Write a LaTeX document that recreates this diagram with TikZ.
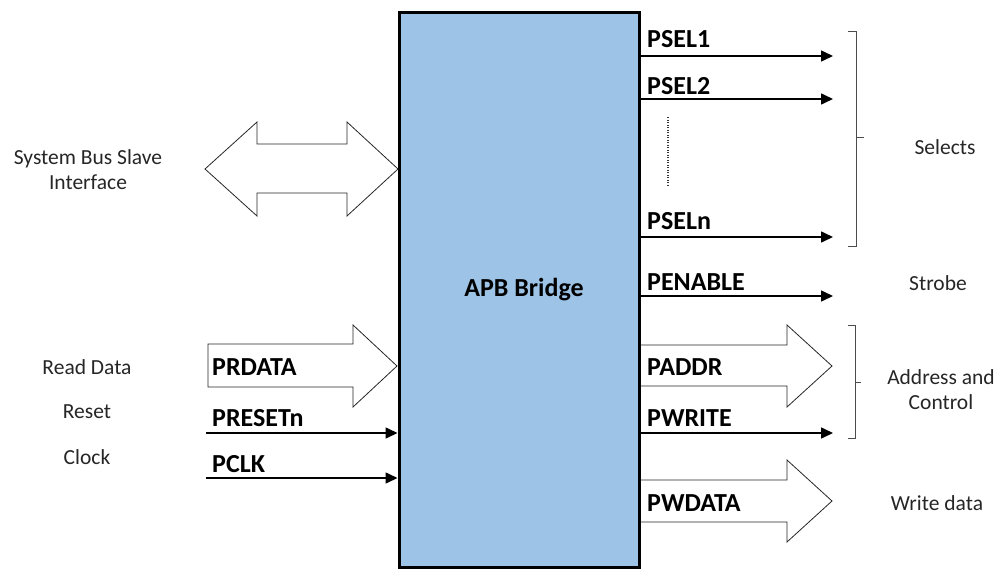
\documentclass[tikz,border=0pt]{standalone}
\usepackage{fontspec}
\setmainfont{Carlito}
\usetikzlibrary{arrows.meta}
\definecolor{bridgeblue}{RGB}{157,195,230}
\begin{document}
\begin{tikzpicture}[x=1pt,y=-1pt,
  sig/.style={line width=1.6pt,-{Triangle[length=12pt,width=11pt]}},
  bus/.style={draw=black!85,line width=0.8pt,fill=white,line join=miter},
  sigtext/.style={font=\fontsize{26}{30}\selectfont\bfseries,anchor=west,inner sep=0pt},
  desc/.style={font=\fontsize{21.5}{25}\selectfont,align=center,inner sep=0pt,text=black!85},
  bracket/.style={draw=black!70,line width=1pt}]

\useasboundingbox (0,0) rectangle (1002,570);

% the bridge block
\node[draw,line width=3pt,fill=bridgeblue,minimum width=240pt,minimum height=555pt,inner sep=0pt]
  (box) at (519,289.5) {};
\node[font=\fontsize{26}{30}\selectfont\bfseries,inner sep=0pt] (title) at (524,290) {APB Bridge};

% system bus slave interface (bidirectional bus)
\draw[bus] (205,169) -- (257,122) -- (257,144) -- (347,144) -- (347,122) -- (398,169)
  -- (347,216) -- (347,193) -- (257,193) -- (257,216) -- cycle;
\node[desc] (sysbus) at (88,170) {System Bus Slave\\Interface};

% read data bus
\draw[bus] (208,344) -- (353,344) -- (353,325) -- (397,366) -- (353,407) -- (353,387) -- (208,387) -- cycle;
\node[sigtext] (prdata) at (212,367) {PRDATA};
\node[desc] (readdata) at (87,367) {Read Data};

% reset and clock inputs
\coordinate (rstin) at (206,433);
\coordinate (clkin) at (206,478);
\draw[sig] (rstin) -- (box.west |- rstin);
\draw[sig] (clkin) -- (box.west |- clkin);
\node[sigtext] (presetn) at (212,418) {PRESETn};
\node[sigtext] (pclk) at (212,464) {PCLK};
\node[desc] (reset) at (87,412) {Reset};
\node[desc] (clock) at (87,457) {Clock};

% select outputs
\coordinate (sel1) at (833,56);
\coordinate (sel2) at (833,99);
\coordinate (seln) at (833,237);
\draw[sig] (box.east |- sel1) -- (sel1);
\draw[sig] (box.east |- sel2) -- (sel2);
\draw[sig] (box.east |- seln) -- (seln);
\node[sigtext] (psel1) at (647,39) {PSEL1};
\node[sigtext] (psel2) at (647,86) {PSEL2};
\node[sigtext] (pseln) at (647,221) {PSELn};
\coordinate (dtop) at (668,117);
\coordinate (dbot) at (668,185);
\draw[black!80,line width=1.4pt,dash pattern=on 1.2pt off 1.3pt] (dtop) -- (dbot);
\draw[bracket] (848,31) -- (856,31) -- (856,246) -- (848,246);
\draw[bracket] (856,137) -- (864,137);
\node[desc] (selects) at (945,147) {Selects};

% strobe
\coordinate (en) at (833,296);
\draw[sig] (box.east |- en) -- (en);
\node[sigtext] (penable) at (647,282) {PENABLE};
\node[desc] (strobe) at (938,283) {Strobe};

% address bus and write control
\draw[bus] (641,345) -- (787,345) -- (787,325) -- (832,366) -- (787,407) -- (787,386) -- (641,386);
\node[sigtext] (paddr) at (647,367) {PADDR};
\coordinate (wr) at (833,433);
\draw[sig] (box.east |- wr) -- (wr);
\node[sigtext] (pwrite) at (647,418) {PWRITE};
\draw[bracket] (848,325) -- (855,325) -- (855,438) -- (848,438);
\draw[bracket] (855,382) -- (861,382);
\node[desc] (addrctl) at (941,389.5) {Address and\\Control};

% write data bus
\draw[bus] (641,480) -- (787,480) -- (787,460) -- (832,501) -- (787,542) -- (787,522) -- (641,522);
\node[sigtext] (pwdata) at (647,503) {PWDATA};
\node[desc] (writedata) at (937,503) {Write data};
\end{tikzpicture}
\end{document}
